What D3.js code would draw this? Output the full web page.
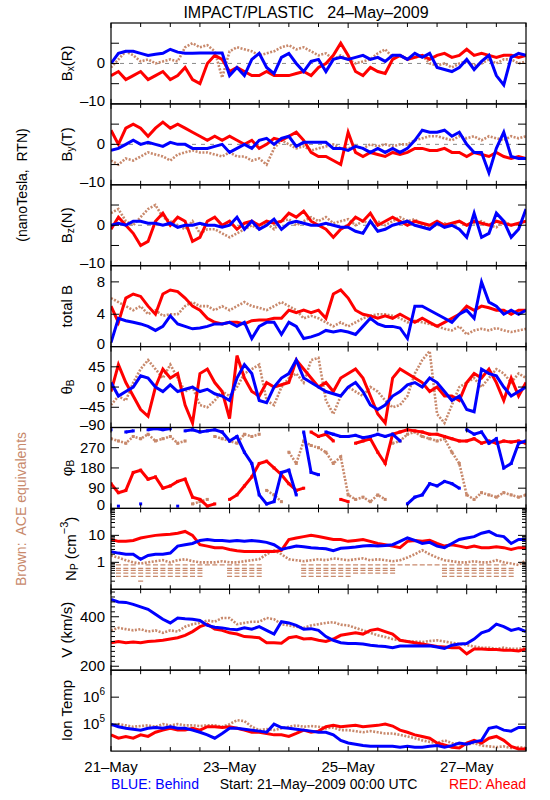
<!DOCTYPE html>
<html><head><meta charset="utf-8">
<script src="https://cdn.jsdelivr.net/npm/d3@7"></script>
<style>body{margin:0;background:#fff}svg text{font-family:"Liberation Sans",Arial,sans-serif}</style>
</head><body><svg id="c" width="550" height="800"></svg>
<script>
// ---------------- DATA (3-hour samples from 21-May-2009 00:00 UTC) ----------------
const hours = d3.range(0, 169, 3);
const dayLabels = ["21\u2013May", "23\u2013May", "25\u2013May", "27\u2013May"];
const dayLabelHours = [0, 48, 96, 144];

const bxBehind = [0,2.5,3,3,2.5,2,2.3,2.5,3.5,2.8,2.5,2.5,2.6,2.6,2.6,2.6,-3,-1,-3,1,2.5,-1,-2.5,1.5,2.5,0,-2,0.5,1,-2,1,1.5,1,1.5,2,1,1.5,0.5,2,2,1,2.5,1.5,2.5,-1,-1.5,-2,-1,1,-1.5,0.5,2,-3,-5.3,1.5,2.5,2];
const bxAhead = [-3,-2,-4,-3,-2,-4,-3,-2,-4,-3,-1,-4,-5,0,2,1,-2,-1,-2,-3,-3,-2,-3,-3,-3,-2.5,-2,-3,-1,0,2,5,2,-2,-3,-1,-2,-2.5,1,2,1,1.5,2,1,2,2.5,1.5,2,3.5,2,2.5,2,1.5,2,2,1.5,2];
const bxAce = [-1,1,3,2,0.5,1,0,0.5,1,0.5,4,5,4,4.5,3,-3.5,3,4,3.5,3,2,2.5,3,4,4.5,3.5,4,3,2,2.5,1,2,1,0,0.5,1,2.5,3.5,1.5,2,1,1.5,2,0,-0.5,0,-1,0,0.5,-0.5,0,1,0,1,1,0,0.5];

const byBehind = [-1.5,-1,0,1,0,0.5,0,-0.5,0.5,0,0,-1,-1,-1,-0.5,0,-2,-1,0,-1,1,1.5,0,1.5,2,-0.5,0.5,0.5,0.5,0.5,-1,-1,-1.5,-0.5,-1,-2,-1,-2,-1,-2,-1,1,3.5,3,3,3.5,2,3,0,-2,-2,-7,-1,3,-3,-3.5,-3.5];
const byAhead = [3.5,0,4,5,4,2,4,5.5,4,5,4,3,2,1,2,1,2,1,0,1,-1,0,1.5,1,2,3,1,-2,-3,-3,-4,-5,3,-2,-3,-2,-2.5,-3,-2,-2.5,-2,-1,-1,-1.5,-1.5,-1,-2,-2,-3,-2,-2.5,-3,-2,-3,-3.5,-3,-3.5];
const byAce = [-4,-5,-3.5,-4,-3,-2,-2.5,-3,-4,-2.5,-2,-1.5,-2,-2,-2.5,-3,-2,-3,-3,-4,-3.5,-5,-1,1,0,-1,-0.5,-1.5,-1,-0.5,0,-1,-1,-0.5,-1,0,-0.5,0,-0.5,0,0,1,1.5,2,2,1.5,1,2,1.5,2,1,2,1.5,1,2,1.5,2];

const bzBehind = [0,0.5,0,1,1,0.5,0.5,0,0.5,-0.5,0,0,0.5,0,0,-0.5,0,2,-1,1,-1,0,1.5,-1,0.5,1,0.5,0,0,0.5,0,-0.5,-0.5,-1.5,-2,1,-1.5,-1,0,0.5,1,0,-0.5,-1,0.5,-0.5,0,-1,-3,3,-3,-2,3,1,-3,-1,4];
const bzAhead = [-1,2,0,-2,-5,-4,1,3,0,2,1,-4,-3,1,2,0,1,-1,0.5,1,0,1,0.5,1,3,2,3.5,1,0,-1,-3,-1,0,2,1,3,0,1,2,1,0,1,0.5,0,1,0,0.5,1,0,1,0.5,0,1,0.5,0,0.5,1];
const bzAce = [3,4,1,0,2,4,5,2,1,0,-1,1,-2,-1,-1,-2,-3,-2,-1,0,-1,0.5,-1,1,1.5,0,1,2,1,2,0.5,1,1.5,0,1,0.5,1,0,1,2,1,1.5,0,-0.5,0,0.5,0,1,0,0.5,1,0,-0.5,1,0,0.5,1];

const btBehind = [0.5,3.5,3.2,3,2.8,2.5,2,2.5,3.8,2.8,2.5,2.2,2.3,2.5,2.8,2.8,3,2.5,3,1,2.5,3,3,1.5,3,2.5,1,1.2,1.5,2,1.8,2,1.8,1.5,2.5,3.5,2.8,2.5,2.5,2.3,1,5,5,4.5,4,3.5,3,4,4.5,3.5,8,5.5,5,4,4.5,4,4.5];
const btAhead = [5,3,6,6.5,6.2,5,4,6.5,7,6.8,6,5,4.5,3.5,3,2.8,3,3,2.8,3.2,3.3,3.3,3.5,3.5,4.5,4.2,4.5,4.2,4.5,3.5,6.5,7,6,4.5,4,3.8,3.5,3.8,3.5,4,3.5,3,3.5,3,2.5,3,3.5,4,5,4.5,5,4.8,4.5,4.5,4,4.5,4.5];
const btAce = [6,5.5,5,4.5,5,4,4.5,3.8,4,4,5,5.5,5,5,4.5,5,4.5,5,5.5,5,4.8,4.5,5,5.5,5,4.5,3.5,3.8,3.5,3,2.5,3,2.5,3,3.5,3.8,4,4,3.8,3.5,3,3.2,3,2.8,2.5,2.2,2,2.5,1.5,2,2.2,2,2.3,2,1.8,2,2.2];

const thBehind = [10,-20,-10,0,25,20,0,-10,5,-10,-5,0,-10,-5,-15,-20,-30,20,50,30,-30,-35,0,20,30,60,20,10,0,-10,-15,-20,0,10,-10,-40,-50,-40,-20,-10,5,10,0,20,10,-10,-30,-20,-50,-55,40,30,25,0,-20,-10,0];
const thAhead = [-10,50,10,-20,-50,-65,0,40,20,30,-40,-80,30,40,10,-10,-70,70,20,-10,-20,10,0,5,10,60,40,20,0,10,-10,20,30,40,20,-20,-60,-80,20,40,30,20,10,-10,0,-20,-20,-30,10,30,20,40,10,-30,20,-20,10];
const thAce = [-40,-20,-30,10,40,60,40,20,50,20,-10,0,-40,-45,-30,-10,-20,0,30,40,50,-30,-40,0,20,30,10,60,65,-30,-60,-20,0,-10,-20,0,-10,-30,-45,-40,-20,30,60,80,-60,-80,-40,0,10,20,0,20,40,30,10,30,20];

const phBehind = [350,10,340,345,20,350,355,350,355,10,345,350,340,345,350,340,300,320,250,200,60,20,30,160,170,60,340,160,150,340,330,320,320,325,315,320,330,320,330,300,20,50,60,110,100,120,110,90,350,330,340,290,310,180,200,290,300];
const phAhead = [110,70,80,160,170,130,140,90,100,120,130,50,40,10,20,340,40,60,100,140,200,210,180,150,110,80,90,340,320,330,300,40,30,290,300,310,250,200,330,340,350,345,340,330,330,320,310,300,300,310,290,300,290,300,295,300,290];
const phAce = [310,300,290,320,310,330,300,310,320,290,300,20,30,40,320,310,300,290,330,320,330,80,60,30,250,200,300,280,270,250,200,230,60,40,50,30,60,40,290,300,330,340,320,310,300,310,250,200,60,40,70,60,50,70,60,50,60];

const npBehind = [2.5,2.2,2,2,1.3,1.8,2,2,2.2,4,4.5,5,6.5,7,6.5,6.5,6,6.5,6,6.5,6,5.5,4.5,3,3.5,4,3.8,3.5,3.3,3.2,2.7,3.3,3.5,3.7,4,4.2,4,4.2,4.5,6,8,6.5,5,5.5,4,3.5,5,7,8,9,12,14,10,9,5,7,7];
const npAhead = [7,6,6,6.5,8,9,10,10.5,11,12,14,10,4.5,4,3.5,3.5,3,2.7,2.5,2.5,2.5,2.6,2.5,2.8,7,8,9,10,9,8,7,7,6,6.5,7,6,5,4.5,4,3.5,6,6.5,6,6.5,5,4,4.5,4,3.5,4,3.5,3.5,3.8,3.5,3,3.5,3.5];
const npAce = [1.8,1.5,1.2,1,0.9,1,1.1,1.2,1,1.2,1.3,1.1,1,1,1,1.1,1,1,1.1,1.2,1.3,2,2.8,2,1.3,1.2,1.1,1.2,1.3,1.2,1.4,1.3,1.2,1.3,1.4,1.2,1.3,1.2,1.1,1.2,1.5,2,2.8,2,1.5,1.2,1.1,1,1,1.1,1,1,1.2,1,0.9,0.8,1.2];
const npAceLow = [1,0.25,0.25,0.25,0.2,0.25,0.25,0.3,0.25,0.3,0.3,0.3,0.3,0.8,0.8,0.8,0.3,0.3,0.3,0.3,0.3,1,1,1,1,1,0.3,0.3,0.3,0.3,0.3,0.3,0.3,0.4,0.4,0.4,0.4,0.4,0.4,0.8,0.8,0.8,0.8,0.8,0.8,0.3,0.3,0.3,0.3,0.3,0.3,0.3,0.3,0.3,0.3,0.8,0.8];
const npAceLevels = [0.2,0.3,0.4,0.5,0.6,0.8];

const vBehind = [470,460,458,450,440,430,410,390,375,395,392,390,385,365,358,355,350,348,355,350,360,345,330,380,375,365,350,352,345,320,305,295,292,292,290,285,282,280,275,282,282,283,282,283,278,272,285,290,292,310,335,345,370,360,345,352,340];
const vAhead = [295,300,295,298,295,300,302,305,310,315,325,340,360,370,350,345,335,330,320,318,315,295,295,293,315,320,310,312,305,300,310,325,330,335,330,345,350,340,330,305,300,295,290,285,280,278,275,275,250,270,270,268,268,265,265,262,270];
const vAce = [345,355,350,345,350,340,345,335,345,340,360,370,375,385,380,395,395,370,375,380,380,395,390,370,365,360,355,365,370,375,378,368,365,355,345,335,325,318,310,305,300,300,298,302,305,300,295,290,285,280,275,275,270,275,270,270,275];

// ion temperature in units of 1e4 K
const tBehind = [10,8,7,6.5,6,7,7.5,7,8,7,7,6,5,4,3,4.5,7,7,6.5,6,5.5,5,10,7.5,7,6.5,6,5.5,5,5,4,2.5,2,1.8,1.6,1.5,1.5,1.5,1.5,1.4,1.5,1.4,1.4,1.5,1.6,1.4,1.6,2,1.8,2.2,2.5,7,8,6,5.5,7.5,7.5];
const tAhead = [4,3,3.5,3,4,3.5,5,6,7,6,6,7,6,8,8,7.5,8,7,6,5,5,4.5,4,4,3.5,4.5,6,5,5.5,8,9,8,8.5,9,8,8.5,9,10,8.5,6,5,4,3.5,3,2,1.7,1.4,1.3,2,2.5,2,3,3.5,2.5,1.5,1.2,1.2];
const tAce = [9,10,9,8,8.5,9,8,10,9,10,9,9,8.5,9,9,8,10,14,13,8,6,6.5,6,7,8,9,8,8.5,8,7,7.5,6,6,5.5,5,5.5,5,4.5,4.5,4,3.5,3,2.5,2.2,2,2.5,2,1.8,1.7,2,1.6,1.5,1.4,1.5,1.3,1.4,1.3];

// ---------------- LAYOUT ----------------
const svg = d3.select("#c");
const L = 111, R = 526, T0 = 23, PH = 80.9;
const COL = {ace: "#c8896c", ahead: "#ff0000", behind: "#0000ff"};
const x = d3.scaleLinear().domain([0, 168]).range([L, R]);
const xTicks = d3.range(0, 169, 12);

const panels = [
  {type: "lin", domain: [-10, 10], ticks: [-5, 0, 5], labels: [-10, 0], zero: true,
   data: [bxAce, bxAhead, bxBehind], label: [["B"], ["x", "sub"], ["(R)"]]},
  {type: "lin", domain: [-10, 10], ticks: [-5, 0, 5], labels: [-10, 0], zero: true,
   data: [byAce, byAhead, byBehind], label: [["B"], ["y", "sub"], ["(T)"]]},
  {type: "lin", domain: [-10, 10], ticks: [-5, 0, 5], labels: [-10, 0], zero: true,
   data: [bzAce, bzAhead, bzBehind], label: [["B"], ["z", "sub"], ["(N)"]]},
  {type: "lin", domain: [0, 10], ticks: [4, 8], labels: [0, 4, 8],
   data: [btAce, btAhead, btBehind], label: [["total B"]]},
  {type: "lin", domain: [-90, 90], ticks: [-45, 0, 45], labels: [-90, -45, 0, 45],
   data: [thAce, thAhead, thBehind], label: [["\u03B8"], ["B", "sub"]]},
  {type: "lin", domain: [0, 360], ticks: [90, 180, 270], labels: [0, 90, 180, 270], wrap: true,
   data: [phAce, phAhead, phBehind], label: [["\u03C6"], ["B", "sub"]]},
  {type: "log", domain: [0.1, 100], ticks: [1, 10], labels: [1, 10], minorLog: true, np: true,
   data: [npAce, npAhead, npBehind], label: [["N"], ["P", "sub"], [" (cm"], ["\u22123", "sup"], [")"]], lx: 70},
  {type: "lin", domain: [184, 511], ticks: [200, 400], labels: [200, 400], minor: d3.range(200, 511, 20),
   data: [vAce, vAhead, vBehind], label: [["V (km/s)"]]},
  {type: "log", domain: [1, 1000], ticks: [10, 100], labels: [], powLabels: [[10, "5"], [100, "6"]],
   data: [tAce, tAhead, tBehind], label: [["Ion Temp"]]}
];

function fmt(v) { return v < 0 ? "\u2013" + Math.abs(v) : String(v); }

panels.forEach((p, i) => {
  const top = T0 + PH * i, bot = top + PH;
  const y = (p.type === "log" ? d3.scaleLog() : d3.scaleLinear()).domain(p.domain).range([bot, top]);
  const g = svg.append("g");
  const cid = "clip" + i;
  svg.append("clipPath").attr("id", cid).append("rect")
    .attr("x", L).attr("y", top).attr("width", R - L).attr("height", PH);
  const pg = g.append("g").attr("clip-path", `url(#${cid})`);

  if (p.zero) {
    pg.append("line").attr("x1", L).attr("x2", R).attr("y1", y(0)).attr("y2", y(0))
      .attr("stroke", "#8a8a8a").attr("stroke-width", 1).attr("stroke-dasharray", "4,5");
  }

  // brown low-density quantised rows for ACE density
  if (p.np) {
    npAceLow.forEach((lo, k) => {
      npAceLevels.forEach(lv => {
        if (lv >= lo && lv < npAce[k] * 0.85) {
          pg.append("line").attr("x1", x(hours[k]) - 2.5).attr("x2", x(hours[k]) + 2.5)
            .attr("y1", y(lv)).attr("y2", y(lv))
            .attr("stroke", COL.ace).attr("stroke-width", 1.2);
        }
      });
    });
  }

  const keys = ["ace", "ahead", "behind"];
  const widths = {ace: 2.6, ahead: 3, behind: 3};
  p.data.forEach((arr, si) => {
    const key = keys[si];
    // split into segments (phi wraps at 0/360)
    const segs = [];
    let cur = [];
    arr.forEach((v, k) => {
      if (p.wrap && k > 0 && Math.abs(v - arr[k - 1]) > 180) { segs.push(cur); cur = []; }
      cur.push([hours[k], v]);
    });
    segs.push(cur);
    const line = d3.line().x(d => x(d[0])).y(d => y(d[1]));
    segs.forEach(s => {
      pg.append("path").attr("d", line(s)).attr("fill", "none")
        .attr("stroke", COL[key]).attr("stroke-width", widths[key])
        .attr("stroke-dasharray", key === "ace" ? "2,1.5" : null);
    });
    if (p.wrap) {
      pg.selectAll(null).data(arr).enter().append("rect")
        .attr("x", (d, k) => x(hours[k]) - 1.5).attr("y", d => y(d) - 1.5)
        .attr("width", 3).attr("height", 3).attr("fill", COL[key]);
    }
  });

  // frame
  g.append("rect").attr("x", L).attr("y", top).attr("width", R - L).attr("height", PH)
    .attr("fill", "none").attr("stroke", "#000").attr("stroke-width", 1.2);

  // x ticks (top and bottom, inward)
  xTicks.forEach(h => {
    const len = h % 48 === 0 ? 5 : 4;
    g.append("line").attr("x1", x(h)).attr("x2", x(h)).attr("y1", top).attr("y2", top + len).attr("stroke", "#000");
    g.append("line").attr("x1", x(h)).attr("x2", x(h)).attr("y1", bot).attr("y2", bot - len).attr("stroke", "#000");
  });

  // y ticks
  p.ticks.forEach(t => {
    g.append("line").attr("x1", L).attr("x2", L + 8).attr("y1", y(t)).attr("y2", y(t)).attr("stroke", "#000");
    g.append("line").attr("x1", R).attr("x2", R - 8).attr("y1", y(t)).attr("y2", y(t)).attr("stroke", "#000");
  });
  if (p.minorLog) {
    [0.1, 1, 10].forEach(dec => d3.range(2, 10).forEach(m => {
      const v = dec * m;
      g.append("line").attr("x1", L).attr("x2", L + 4).attr("y1", y(v)).attr("y2", y(v)).attr("stroke", "#000");
      g.append("line").attr("x1", R).attr("x2", R - 4).attr("y1", y(v)).attr("y2", y(v)).attr("stroke", "#000");
    }));
  }
  if (p.minor) {
    p.minor.forEach(v => {
      if (p.ticks.includes(v)) return;
      g.append("line").attr("x1", L).attr("x2", L + 4).attr("y1", y(v)).attr("y2", y(v)).attr("stroke", "#000");
      g.append("line").attr("x1", R).attr("x2", R - 4).attr("y1", y(v)).attr("y2", y(v)).attr("stroke", "#000");
    });
  }

  // tick labels
  p.labels.forEach(v => {
    g.append("text").attr("x", L - 6).attr("y", Math.min(y(v), bot - 3) + 5)
      .attr("text-anchor", "end").attr("font-size", 15).text(fmt(v));
  });
  if (p.powLabels) {
    p.powLabels.forEach(([v, e]) => {
      const t = g.append("text").attr("x", L - 6).attr("y", y(v) + 5)
        .attr("text-anchor", "end").attr("font-size", 15);
      t.append("tspan").text("10");
      t.append("tspan").attr("dy", -7).attr("font-size", 10).text(e);
    });
  }

  // rotated axis label
  const lx = p.lx || 66, ly = (top + bot) / 2;
  const lt = g.append("text").attr("transform", `translate(${lx},${ly}) rotate(-90)`)
    .attr("text-anchor", "middle").attr("dominant-baseline", "central").attr("font-size", 15);
  let shift = 0;
  p.label.forEach(([s, kind]) => {
    const ts = lt.append("tspan").text(s);
    let target = 0;
    if (kind === "sub") { target = 4; ts.attr("font-size", 10); }
    if (kind === "sup") { target = -6; ts.attr("font-size", 11); }
    if (target !== shift) { ts.attr("dy", target - shift); shift = target; }
  });
});

// title
svg.append("text").attr("x", 306).attr("y", 18).attr("text-anchor", "middle")
  .attr("font-size", 16).style("white-space", "pre").text("IMPACT/PLASTIC   24\u2013May\u20132009");

// side labels
svg.append("text").attr("transform", `translate(22,185) rotate(-90)`).attr("text-anchor", "middle")
  .attr("dominant-baseline", "central").attr("font-size", 14).text("(nanoTesla,  RTN)").style("white-space", "pre");
svg.append("text").attr("transform", `translate(21,509) rotate(-90)`).attr("text-anchor", "middle")
  .attr("dominant-baseline", "central").attr("font-size", 14).attr("fill", COL.ace).text("Brown:  ACE equivalents").style("white-space", "pre");

// x-axis labels
dayLabelHours.forEach((h, k) => {
  svg.append("text").attr("x", x(h)).attr("y", 772).attr("text-anchor", "middle")
    .attr("font-size", 15).text(dayLabels[k]);
});
svg.append("text").attr("x", L).attr("y", 789).attr("font-size", 14).attr("fill", COL.behind).text("BLUE: Behind");
svg.append("text").attr("x", (L + R) / 2).attr("y", 789).attr("text-anchor", "middle").attr("font-size", 14)
  .text("Start: 21\u2013May\u20132009 00:00 UTC");
svg.append("text").attr("x", R).attr("y", 789).attr("text-anchor", "end").attr("font-size", 14).attr("fill", COL.ahead).text("RED: Ahead");
</script></body></html>
